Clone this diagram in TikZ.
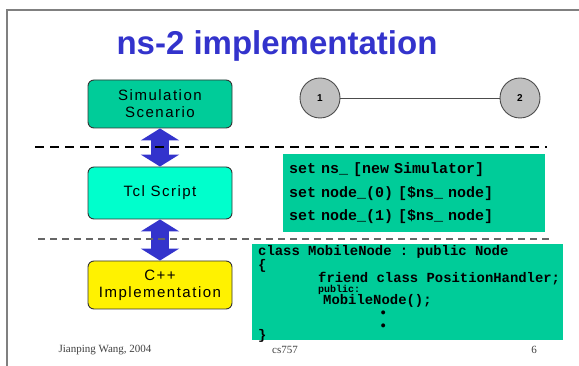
\documentclass[tikz,border=0pt]{standalone}
\usepackage{fontspec}
\setmainfont{Liberation Serif}
\setsansfont{Liberation Sans}
\setmonofont{Liberation Mono}
\newfontfamily\boxfont[LetterSpace=10]{Liberation Sans}
\usetikzlibrary{arrows.meta,positioning}
\definecolor{slideblue}{HTML}{3333CC}
\definecolor{scengreen}{HTML}{00CC99}
\definecolor{tclaqua}{HTML}{00FFCC}
\definecolor{hostgray}{HTML}{C0C0C0}

\begin{document}
\begin{tikzpicture}[
  x=1pt,y=-1pt,
  box/.style={draw=black!80,line width=0.9pt,rounded corners=6pt,align=center,
              minimum width=144pt,minimum height=48pt,
              font=\boxfont\fontsize{15}{17}\selectfont},
  codebox/.style={fill=scengreen,align=left,inner xsep=6pt,
                  font=\ttfamily\bfseries\fontsize{15}{23.5}\selectfont},
  host/.style={circle,draw=black!70,line width=0.9pt,fill=hostgray,minimum size=40pt,
               inner sep=0pt,font=\sffamily\bfseries\fontsize{10}{12}\selectfont},
  flow/.style={slideblue,line width=18pt,
               {Triangle[width=38pt,length=12pt]}-{Triangle[width=38pt,length=12pt]}},
  layer/.style={line width=2.5pt,dash pattern=on 9pt off 6pt},
  sublayer/.style={black!60,line width=1.2pt,dash pattern=on 7pt off 5pt},
  foot/.style={font=\fontsize{11}{13}\selectfont,text=black!75},
]
\useasboundingbox (0,0) rectangle (579,366);
% slide frame
\draw[gray,line width=1.5pt] (7,366) -- (7,10) -- (579,10);
\node[font=\sffamily\bfseries\fontsize{33}{36}\selectfont,text=slideblue] (title) at (277,46) {ns-2 implementation};

% left column
\node[box,fill=scengreen] (scen) at (160,104) {Simulation\\Scenario};
\node[box,fill=tclaqua,minimum height=52pt] (tcl) at (160,193) {Tcl Script};
\node[box,fill=yellow] (cpp) at (160,285) {C++\\Implementation};
\draw[flow] (scen) -- (tcl);
\draw[flow] (tcl) -- (cpp);

% topology
\node[host] (n1) at (320,98) {1};
\node[host] (n2) at (520,98) {2};
\draw[black!70,line width=0.9pt] (n1) -- (n2);

% layer separators
\coordinate (l1a) at (35,147);
\coordinate (l1b) at (547,147);
\coordinate (l2a) at (38,239);
\coordinate (l2b) at (552,239);
\draw[layer] (l1a) -- (l1b);
\draw[sublayer] (l2a) -- (l2b);

% code
\node[codebox,anchor=north west,text width=250pt,minimum height=78pt] (tclcode) at (283,154)
  {set ns\_ [new Simulator]\\
   set node\_(0) [\$ns\_ node]\\
   set node\_(1) [\$ns\_ node]};
\node[fill=scengreen,anchor=north west,minimum width=311pt,minimum height=96pt] (cppcode) at (252,244) {};
\node[anchor=north west,align=left,inner sep=0pt,
      font=\ttfamily\bfseries\fontsize{13.9}{12}\selectfont] (cpptext) at (258,245)
  {class MobileNode : public Node\\
   \{\\[-1pt]
   \hspace*{60pt}friend class PositionHandler;\\[-2pt]
   \hspace*{60pt}{\fontsize{10}{10}\selectfont public:}\\[-1pt]
   \hspace*{65pt}MobileNode();\\[1pt]
   \hspace*{121pt}\textbullet\\[1pt]
   \hspace*{121pt}\textbullet\\[-3pt]
   \}};

% footer
\node[foot,anchor=west] (author) at (55,350) {Jianping Wang, 2004};
\node[foot] (course) at (285,350) {cs757};
\node[foot] (page) at (534,350) {6};
\end{tikzpicture}
\end{document}
